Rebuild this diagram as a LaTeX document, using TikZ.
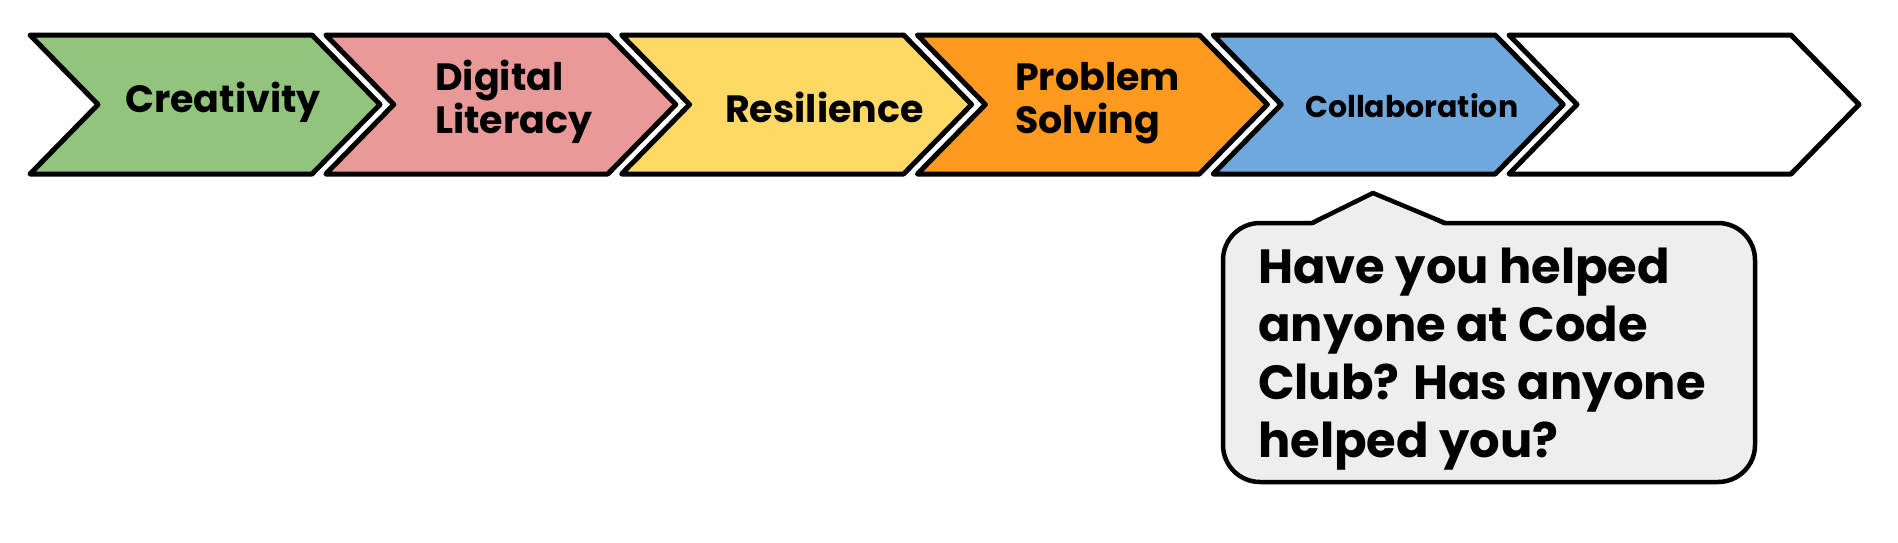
\documentclass[tikz,border=0pt]{standalone}
\usepackage{fontspec}
\setmainfont{Poppins}
\usetikzlibrary{positioning}
\definecolor{creagreen}{HTML}{93C47D}
\definecolor{digipink}{HTML}{EA9999}
\definecolor{resiyellow}{HTML}{FFD966}
\definecolor{proborange}{HTML}{FF9A1E}
\definecolor{collabblue}{HTML}{6FA8DC}
\definecolor{bubblegray}{HTML}{EEEEEE}
\begin{document}
\begin{tikzpicture}[x=1pt,y=-1pt,line join=round]
  \tikzstyle{chevron}=[draw=black,line width=5pt]
  \tikzstyle{skill}=[font=\bfseries\fontsize{38}{43}\selectfont,align=left,inner sep=0pt,anchor=base west]
  \tikzstyle{bubble}=[draw=black,line width=4.5pt,fill=bubblegray]
  \useasboundingbox (0,0) rectangle (1898,542);
  \foreach \i/\col in {0/creagreen,1/digipink,2/resiyellow,3/proborange,4/collabblue,5/white}
    \draw[chevron,fill=\col] ({30+295.8*\i},35) -- ++(282,0) -- ++(68,69.5) -- ++(-68,69.5)
      -- ++(-282,0) -- ++(68,-69.5) -- cycle;
  \node[skill] (crea) at (125,112) {Creativity};
  \node[skill] (digi) at (435,133) {Digital\\Literacy};
  \node[skill] (resi) at (725,122) {Resilience};
  \node[skill] (prob) at (1015,133) {Problem\\Solving};
  \node[skill,font=\bfseries\fontsize{30}{36}\selectfont] (collab) at (1305,117) {Collaboration};
  % speech bubble under Collaboration
  \node[bubble,rounded corners=37pt,minimum width=532pt,minimum height=259pt] (box) at (1489,352.5) {};
  \fill[bubblegray] (1312,226) -- (1373,193) -- (1445,226) -- cycle;
  \draw[bubble,fill=none] (1312,223) -- (1373,193) -- (1445,223);
  \node[font=\bfseries\fontsize{48}{58}\selectfont,align=left,inner sep=0pt,anchor=base west] (question) at (1258,457)
    {Have you helped\\anyone at Code\\Club? Has anyone\\helped you?};
\end{tikzpicture}
\end{document}
